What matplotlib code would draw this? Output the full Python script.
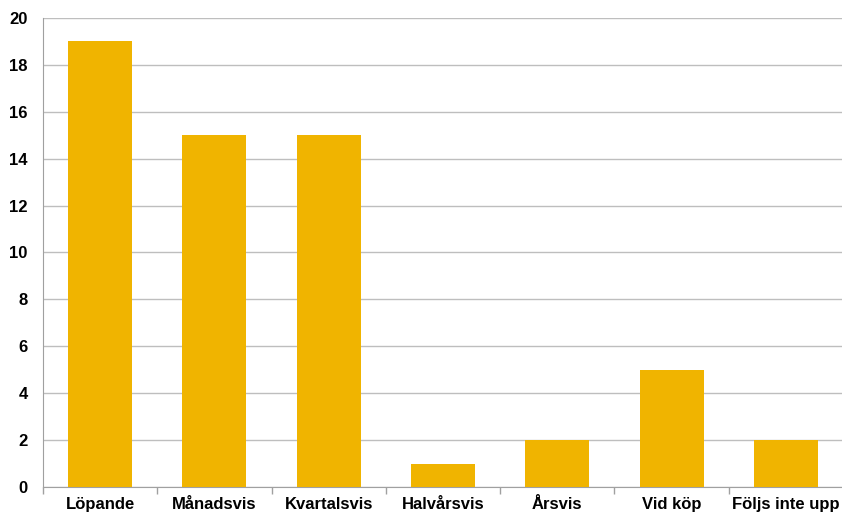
import numpy as np
import matplotlib
matplotlib.use("Agg")
from matplotlib import pyplot as plt

categories = ["Löpande", "Månadsvis", "Kvartalsvis", "Halvårsvis", "Årsvis", "Vid köp", "Följs inte upp"]
values = [19, 15, 15, 1, 2, 5, 2]
yticks = [0, 2, 4, 6, 8, 10, 12, 14, 16, 18, 20]

plt.rcParams['font.family'] = ['Liberation Sans', 'DejaVu Sans']

fig = plt.figure(figsize=(8.42, 5.13), dpi=100)
ax = fig.add_axes([43 / 842, 26 / 513, 800 / 842, 469 / 513])

x = np.arange(len(categories))
ax.bar(x, values, width=0.56, color="#F0B400", zorder=3)

ax.set_xlim(-0.5, len(categories) - 0.5)
ax.set_ylim(0, 20)
ax.set_yticks(yticks)
ax.set_yticklabels([str(t) for t in yticks], fontsize=12, fontweight="bold")
ax.tick_params(axis="y", length=0, pad=11)
ax.yaxis.grid(True, color="#BEBEBE", linewidth=1, zorder=0)

# category labels centered, tick marks on boundaries
ax.set_xticks(x)
ax.set_xticklabels(categories, fontsize=12, fontweight="bold")
for lab in ax.get_xticklabels():
    lab.set_verticalalignment("baseline")
ax.tick_params(axis="x", which="major", length=0, pad=16)
ax.set_xticks(np.arange(len(categories) + 1) - 0.5, minor=True)
ax.tick_params(axis="x", which="minor", length=5, color="#A0A0A0", width=1)

for s in ["top", "right"]:
    ax.spines[s].set_visible(False)
for s in ["left", "bottom"]:
    ax.spines[s].set_color("#A0A0A0")

fig.savefig("out.png", dpi=100)
